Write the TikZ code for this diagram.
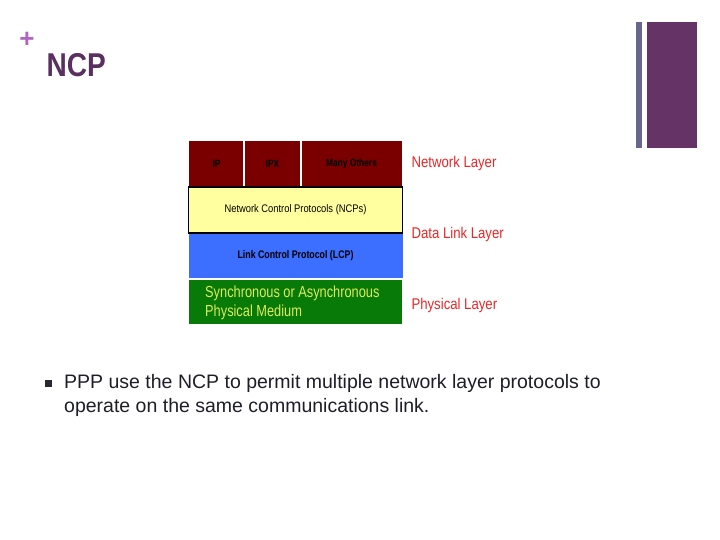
\documentclass[tikz,border=0pt]{standalone}
\usepackage{fontspec}
\setmainfont{Liberation Sans}
\begin{document}
\begin{tikzpicture}[x=1pt,y=-1pt,
  lay/.style={font=\fontsize{15.5}{18}\selectfont\addfontfeatures{FakeStretch=0.85}, text={rgb,255:red,230;green,40;blue,40}, anchor=west},
  cell/.style={font=\fontsize{10.5}{12}\selectfont\bfseries\addfontfeatures{FakeStretch=0.8}}]
\useasboundingbox (0,0) rectangle (720,540);
\fill[fill=white] (0,0) rectangle (720,540);
\fill[color={rgb,255:red,102;green,102;blue,143}] (636,22) rectangle (642,148);
\fill[color={rgb,255:red,102;green,51;blue,102}] (647,22) rectangle (697,148);
\node[text={rgb,255:red,176;green,100;blue,192}, font=\fontsize{26}{26}\selectfont\bfseries] (plus) at (27,40) {+};
\node[anchor=west, text={rgb,255:red,90;green,48;blue,96}, font=\fontsize{33}{36}\selectfont\bfseries\addfontfeatures{FakeStretch=0.85}] (title) at (43,65) {NCP};
% network row
\fill[color={rgb,255:red,122;green,0;blue,0}] (189,141) rectangle (402,186);
\draw[white, line width=1.2] (244,141) -- (244,186) (301,141) -- (301,186);
\node[cell] (ip) at (216.5,164) {IP};
\node[cell] (ipx) at (272.5,164) {IPX};
\node[cell] (mo) at (351.5,164) {Many Others};
\node[draw=black, line width=1.2, fill={rgb,255:red,255;green,255;blue,160}, minimum width=214, minimum height=46, inner sep=0, font=\fontsize{11}{13}\selectfont\addfontfeatures{FakeStretch=0.85}] (ncp) at (295.5,210) {Network Control Protocols (NCPs)};
\node[fill={rgb,255:red,60;green,110;blue,255}, minimum width=214, minimum height=44, inner sep=0, font=\fontsize{11}{13}\selectfont\bfseries\addfontfeatures{FakeStretch=0.8}] (lcp) at (295.5,256) {Link Control Protocol (LCP)};
\fill[color={rgb,255:red,8;green,122;blue,8}] (189,280) rectangle (402,324);
\node[anchor=west, align=left, inner sep=0, text={rgb,255:red,220;green,235;blue,90}, font=\fontsize{16}{19}\selectfont\addfontfeatures{FakeStretch=0.8}] (phy) at (205,303) {Synchronous or Asynchronous\\Physical Medium};
\node[lay] (nl) at (408,163) {Network Layer};
\node[lay] (dl) at (408,234) {Data Link Layer};
\node[lay] (pl) at (408,305) {Physical Layer};
\fill[color={rgb,255:red,40;green,40;blue,50}] (45,380) rectangle (52,387);
\node[anchor=north west, align=left, inner sep=0, font=\fontsize{19.5}{24}\selectfont, text={rgb,255:red,30;green,30;blue,40}] (txt) at (64,374) {PPP use the NCP to permit multiple network layer protocols to\\operate on the same communications link.};
\end{tikzpicture}
\end{document}
